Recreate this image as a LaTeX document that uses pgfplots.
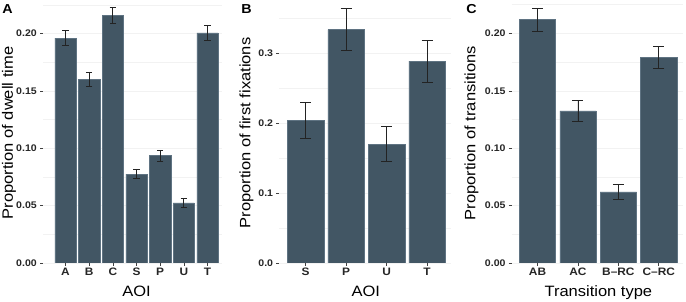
\documentclass[border=0pt]{standalone}
\usepackage{fontspec}
\setmainfont{Liberation Sans}[FakeStretch=1.1]
\usepackage{pgfplots}
\pgfplotsset{compat=1.18}
\usepackage{pgfplotstable}
\definecolor{barfill}{RGB}{66,86,100}
\definecolor{baredge}{RGB}{95,115,130}
\definecolor{errc}{RGB}{35,35,35}
\newcommand{\tfont}{\fontsize{9.6}{11}\selectfont\bfseries}
\newcommand{\xfont}{\fontsize{10.8}{12}\selectfont\bfseries}
\newcommand{\lfont}{\fontsize{15}{16}\selectfont}

\pgfplotstableread{
x y e
0 0.196 0.0065
1 0.160 0.0065
2 0.216 0.0068
3 0.0775 0.0040
4 0.0935 0.0048
5 0.0525 0.0038
6 0.2005 0.0068
}\dataA
\pgfplotstableread{
x y e
0 0.204 0.026
1 0.334 0.030
2 0.170 0.025
3 0.289 0.030
}\dataB
\pgfplotstableread{
x y e
0 0.212 0.010
1 0.1325 0.0088
2 0.062 0.0065
3 0.179 0.0095
}\dataC

\pgfplotsset{
  panel/.style={
    scale only axis, height=260pt, anchor=south west,
    ymin=0, ybar, bar width=0.9,
    axis line style={draw=none},
    tick align=outside, xtick pos=bottom, ytick pos=left,
    major tick length=3pt, minor tick length=0pt,
    tick style={color=black!75, line width=0.6pt},
    ymajorgrids, yminorgrids,
    major grid style={color=black!5, line width=0.5pt},
    minor grid style={color=black!5, line width=0.5pt},
    xtick=data,
    /pgf/number format/assume math mode=true,
    every tick label/.append style={text=black!85},
    yticklabel style={inner sep=0pt, xshift=-3pt},
    xticklabel style={inner sep=0pt, yshift=-2pt},
    every axis x label/.style={anchor=base},
    every axis y label/.style={rotate=90, anchor=center},
  },
  bars/.style={fill=barfill, draw=baredge, line width=0.5pt,
    error bars/y dir=both, error bars/y explicit,
    error bars/error bar style={line width=0.8pt, color=errc},
    error bars/error mark=-,
    error bars/error mark options={rotate=90, mark size=#1, line width=0.8pt, color=errc},
  },
}

\begin{document}
\begin{tikzpicture}
\useasboundingbox (0,0) rectangle (686pt,302pt);
% Panel A
\begin{axis}[panel, at={(43pt,39pt)}, width=178.7pt,
  xmin=-0.95, xmax=6.6, ymax=0.2266,
  ytick={0,0.05,0.10,0.15,0.20},
  minor ytick={0.025,0.075,0.125,0.175,0.225},
  yticklabel={\tfont\pgfmathprintnumber[fixed,fixed zerofill,precision=2]{\tick}},
  xticklabels={{\xfont A},{\xfont B},{\xfont C},{\xfont S},{\xfont P},{\xfont U},{\xfont T}},
  xlabel={\lfont AOI}, ylabel={\lfont Proportion of dwell time},
  xlabel style={at={(axis description cs:0.523,-0.1296)}},
  ylabel style={at={(axis description cs:-0.19,0.5)}},
]
\addplot[bars=3.2pt] table[x=x, y=y, y error=e] {\dataA};
\end{axis}
% Panel B
\begin{axis}[panel, at={(279.3pt,39pt)}, width=172.1pt,
  xmin=-0.65, xmax=3.6, ymax=0.372,
  ytick={0,0.1,0.2,0.3},
  minor ytick={0.05,0.15,0.25,0.35},
  yticklabel={\tfont\pgfmathprintnumber[fixed,fixed zerofill,precision=1]{\tick}},
  xticklabels={{\xfont S},{\xfont P},{\xfont U},{\xfont T}},
  xlabel={\lfont AOI}, ylabel={\lfont Proportion of first fixations},
  xlabel style={at={(axis description cs:0.503,-0.1296)}},
  ylabel style={at={(axis description cs:-0.19,0.5)}},
]
\addplot[bars=5.5pt] table[x=x, y=y, y error=e] {\dataB};
\end{axis}
% Panel C
\begin{axis}[panel, at={(511.7pt,39pt)}, width=171.3pt,
  xmin=-0.64, xmax=3.6, ymax=0.2265,
  ytick={0,0.05,0.10,0.15,0.20},
  minor ytick={0.025,0.075,0.125,0.175,0.225},
  yticklabel={\tfont\pgfmathprintnumber[fixed,fixed zerofill,precision=2]{\tick}},
  xticklabels={{\xfont AB},{\xfont AC},{\xfont B--RC},{\xfont C--RC}},
  xlabel={\lfont Transition type}, ylabel={\lfont Proportion of transitions},
  xlabel style={at={(axis description cs:0.506,-0.1296)}},
  ylabel style={at={(axis description cs:-0.235,0.5)}},
]
\addplot[bars=5.5pt] table[x=x, y=y, y error=e] {\dataC};
\end{axis}
\node[anchor=base west, inner sep=0pt, font=\fontsize{13}{14}\selectfont\bfseries] at (2.2pt,288pt) {A};
\node[anchor=base west, inner sep=0pt, font=\fontsize{13}{14}\selectfont\bfseries] at (241.2pt,288pt) {B};
\node[anchor=base west, inner sep=0pt, font=\fontsize{13}{14}\selectfont\bfseries] at (466.2pt,288pt) {C};
\end{tikzpicture}
\end{document}
